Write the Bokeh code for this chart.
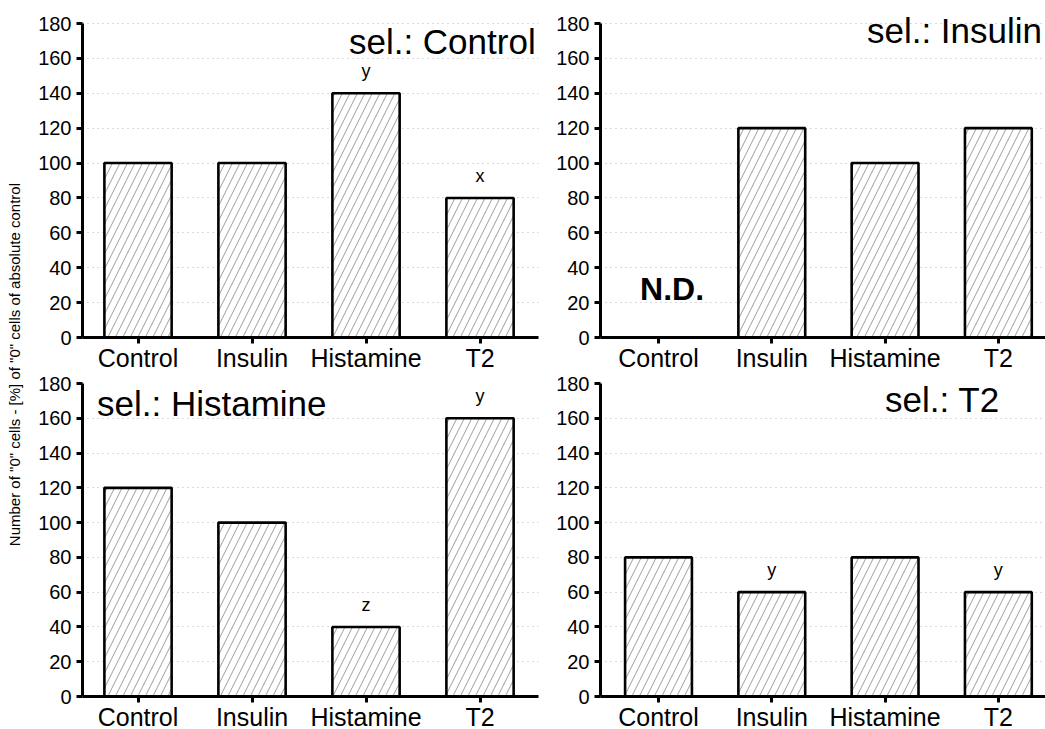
import math
from bokeh.plotting import figure
from bokeh.models import Range1d, FixedTicker, ColumnDataSource, Label
from bokeh.layouts import row, column
from bokeh.embed import file_html
from bokeh.resources import INLINE
from bokeh.core.properties import value

categories = ["Control", "Insulin", "Histamine", "T2"]
y_ticks = [0, 20, 40, 60, 80, 100, 120, 140, 160, 180]

sel_control = [100, 100, 140, 80]
sel_control_marks = ["", "", "y", "x"]
sel_insulin = [None, 120, 100, 120]          # Control: N.D.
sel_insulin_marks = ["", "", "", ""]
sel_histamine = [120, 100, 40, 160]
sel_histamine_marks = ["", "", "z", "y"]
sel_t2 = [80, 60, 80, 60]
sel_t2_marks = ["", "y", "", "y"]

y_label = 'Number of "0" cells  - [%] of "0" cells of absolute control'
FONT = "Liberation Sans"


def panel(vals, marks, title, tx, ty, xr, ytop, fw, fh, bl, br, bt, bb, nd=None):
    p = figure(output_backend="svg", toolbar_location=None,
               frame_width=fw, frame_height=fh,
               x_range=Range1d(*xr), y_range=Range1d(0, ytop),
               min_border_left=bl, min_border_right=br,
               min_border_top=bt, min_border_bottom=bb,
               background_fill_color="white", border_fill_color="white")
    p.outline_line_color = None
    idx = [i for i, v in enumerate(vals) if v is not None]
    src = ColumnDataSource(dict(x=idx, top=[vals[i] for i in idx]))
    p.vbar(x="x", top="top", bottom=0, width=0.59, source=src,
           fill_color="white", line_color="black", line_width=2.6,
           hatch_pattern="/", hatch_color="#5a5a5a", hatch_scale=15,
           hatch_weight=0.6)
    # significance letters
    mi = [i for i, m in enumerate(marks) if m]
    if mi:
        msrc = ColumnDataSource(dict(x=mi, y=[vals[i] + 7 for i in mi],
                                     t=[marks[i] for i in mi]))
        p.text(x="x", y="y", text="t", source=msrc, text_align="center",
               text_baseline="bottom", text_font=value(FONT),
               text_font_size="18px", text_color="black")
    p.add_layout(Label(x=tx, y=ty, text=title, text_align="left",
                       text_baseline="alphabetic", text_font=FONT,
                       text_font_size="35px", text_color="black"))
    if nd is not None:
        p.text(x=[nd[0]], y=[nd[1]], text=["N.D."], text_align="center",
               text_baseline="middle", text_font=value(FONT),
               text_font_style="bold", text_font_size="32px",
               text_color="black")
    # axes
    for ax in (p.xaxis[0], p.yaxis[0]):
        ax.axis_line_width = 3
        ax.axis_line_color = "black"
        ax.major_tick_line_width = 3
        ax.major_tick_line_color = "black"
        ax.major_tick_in = 0
        ax.major_tick_out = 6
        ax.minor_tick_line_color = None
        ax.major_label_text_font = FONT
        ax.major_label_text_color = "black"
    p.yaxis.ticker = FixedTicker(ticks=y_ticks)
    p.yaxis.bounds = (y_ticks[0], y_ticks[-1])
    p.yaxis.major_label_text_font_size = "20px"
    p.yaxis.major_label_standoff = 5
    p.xaxis.ticker = FixedTicker(ticks=list(range(len(categories))))
    p.xaxis.major_label_overrides = {i: c for i, c in enumerate(categories)}
    p.xaxis.major_label_text_font_size = "25px"
    p.xaxis.major_label_standoff = 0
    p.xgrid.visible = False
    p.ygrid.ticker = FixedTicker(ticks=y_ticks[1:])
    p.ygrid.grid_line_color = "#b4b4b4"
    p.ygrid.grid_line_dash = "1 4"
    p.ygrid.grid_line_width = 1
    return p


XL = (-0.487, 3.513)
XR = (-0.512, 3.416)
TOP_YT = 180 * 326 / 314

tl = panel(sel_control, sel_control_marks, "sel.: Control", 1.85, 169.5, XL, TOP_YT,
           456, 326, 58, 10, 11, 36)
tr = panel(sel_insulin, sel_insulin_marks, "sel.: Insulin", 1.84, 176, XR, TOP_YT,
           445, 326, 52, 0, 11, 36, nd=(0.12, 28))
bl = panel(sel_histamine, sel_histamine_marks, "sel.: Histamine", -0.36, 168.5, XL, 180,
           456, 313, 58, 10, 9, 34)
br = panel(sel_t2, sel_t2_marks, "sel.: T2", 2.0, 171, XR, 180,
           445, 313, 52, 0, 9, 34)

lab = figure(output_backend="svg", toolbar_location=None, width=24, height=729,
             x_range=Range1d(0, 24), y_range=Range1d(0, 729),
             min_border=0, background_fill_color="white",
             border_fill_color="white")
lab.axis.visible = False
lab.grid.visible = False
lab.outline_line_color = None
lab.text(x=[14], y=[367], text=[y_label], angle=math.pi / 2,
         text_align="center", text_baseline="middle",
         text_font=value(FONT), text_font_size="15px", text_color="black")

layout = row(lab, column(row(tl, tr), row(bl, br)))
open("out.html", "w").write(file_html(layout, INLINE))
